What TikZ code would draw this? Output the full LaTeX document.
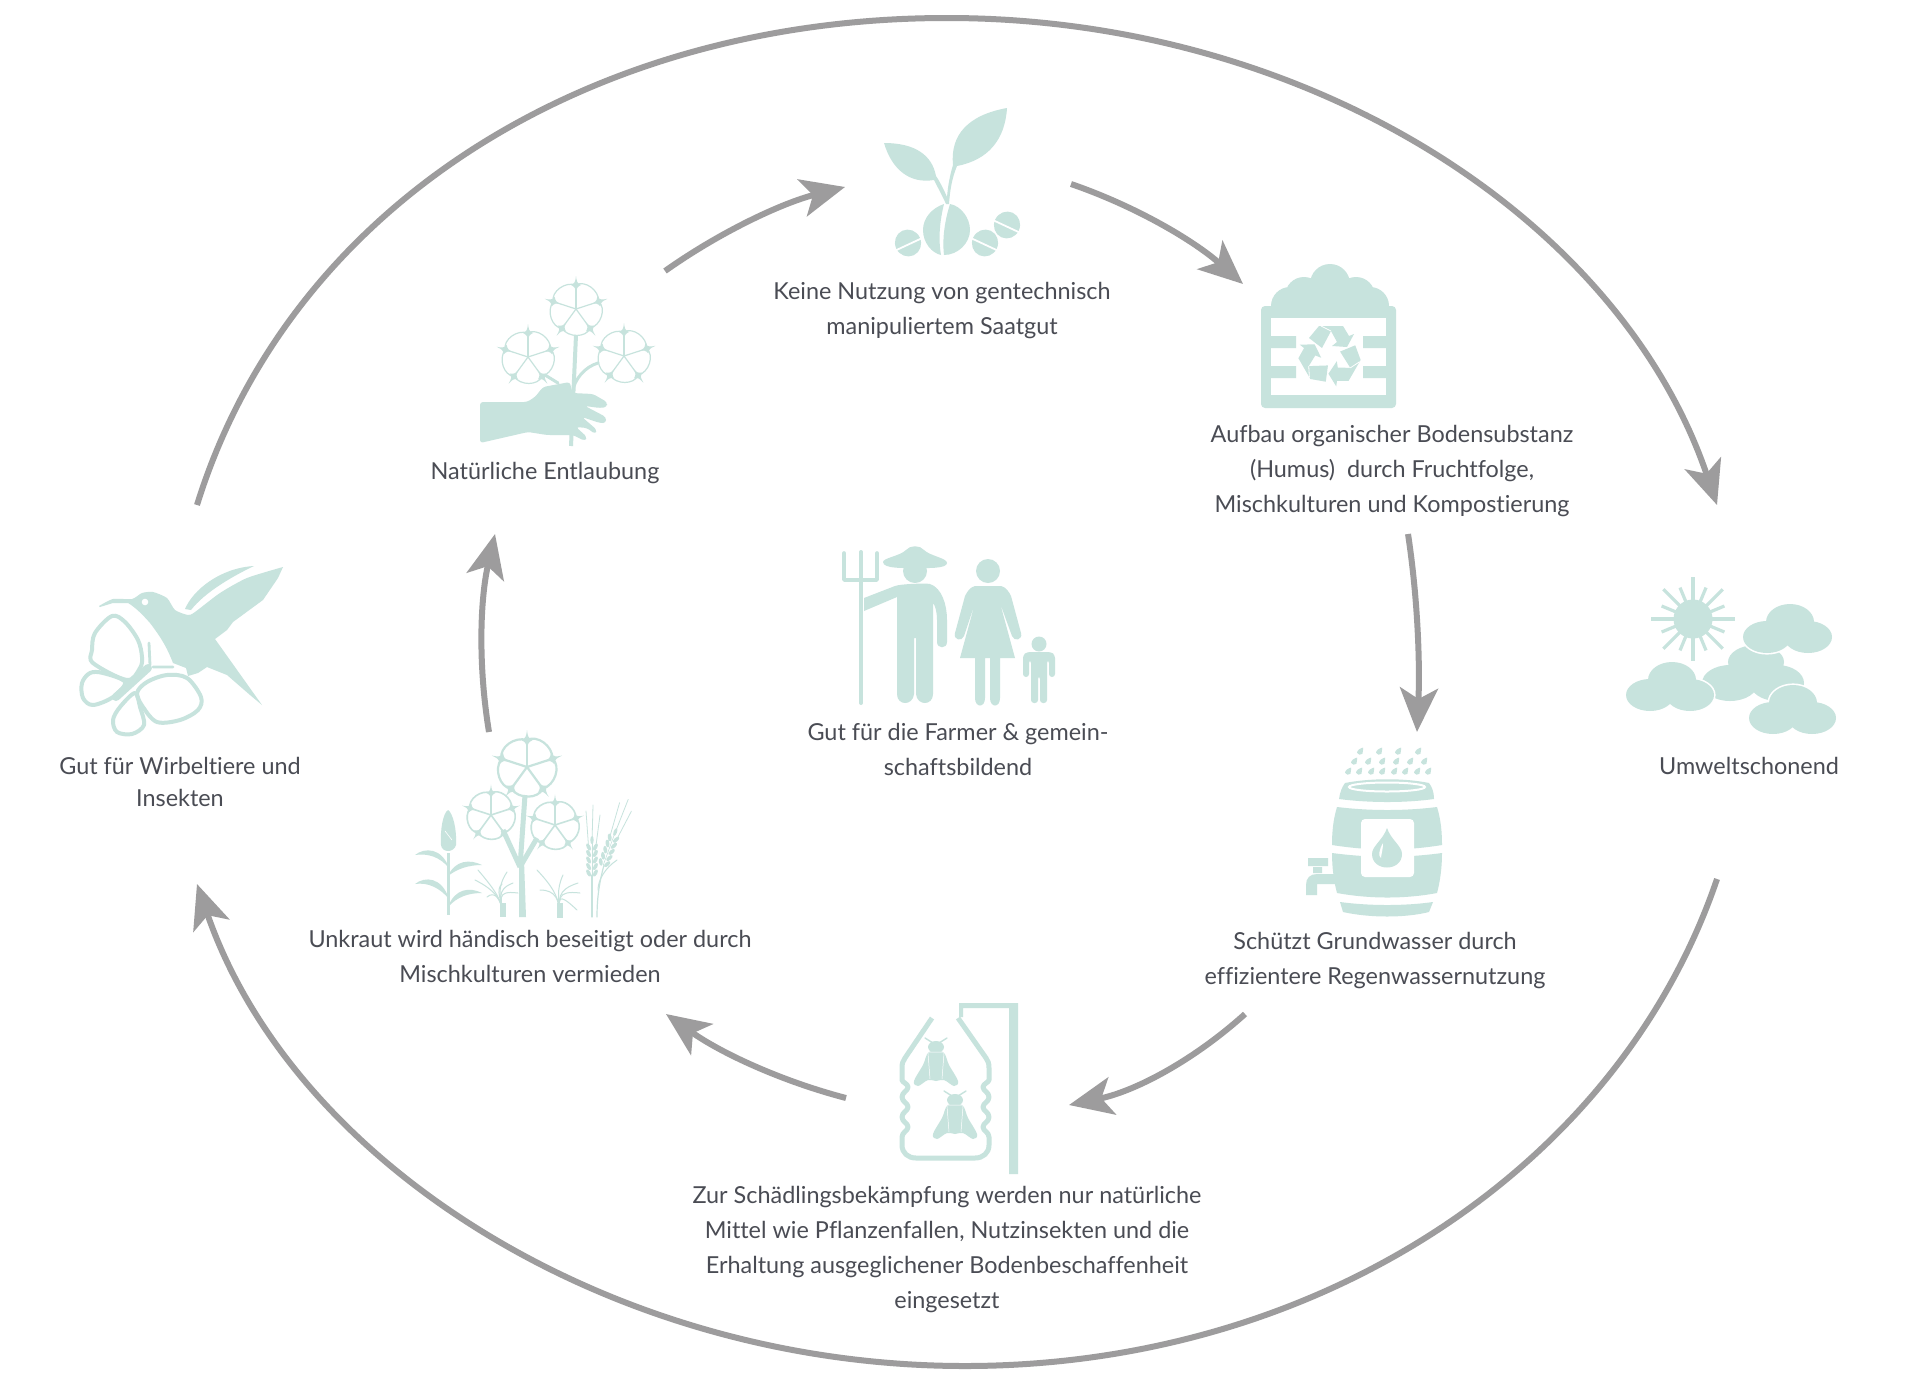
\documentclass[tikz,border=0pt]{standalone}
\usepackage{fontspec}
\setmainfont{Lato}[Ligatures=CommonOff]
\usetikzlibrary{arrows.meta}
\definecolor{icon}{HTML}{C7E3DD}
\definecolor{arrowgray}{HTML}{9D9C9D}
\definecolor{label}{HTML}{4A4C54}
\tikzset{
  iconfill/.style={fill=icon,draw=none},
  iconline/.style={draw=icon,line cap=round,line join=round},
  flow/.style={draw=arrowgray,line width=3pt,-{Stealth[length=22pt,width=19pt,inset=5.5pt,fill=arrowgray]}},
  caption/.style={text=label,align=center,font=\fontsize{11.7pt}{17.5pt}\selectfont,inner sep=0pt}
}
\newcommand{\flowerpic}[4]{\begin{scope}[shift={(#1,#2)},scale=#3]
  \foreach \k in {0,72,144,216,288}{\begin{scope}[rotate=\k]
    \draw[iconline,line width=#4] (0,0)--(0,-24);
    \draw[iconline,line width=#4] (0,-24) .. controls (9,-29) and (23,-19) .. (22.8,-7.4);
    \fill[iconfill] (0,-33) .. controls (.8,-27) and (1,-26) .. (5,-24) .. controls (1,-22) and (.8,-21) .. (0,-16) .. controls (-.8,-21) and (-1,-22) .. (-5,-24) .. controls (-1,-26) and (-.8,-27) .. (0,-33) -- cycle;
  \end{scope}}
\end{scope}}
\newcommand{\cloudpic}[6]{% top x,y ; left x,y ; right x,y
  \draw[white,fill=white,line width=1.6pt] (#1,#2) ellipse (24 and 18) (#3,#4) ellipse (24 and 16) (#5,#6) ellipse (24 and 16);
  \fill[iconfill] (#1,#2) ellipse (24 and 18) (#3,#4) ellipse (24 and 16) (#5,#6) ellipse (24 and 16);
}
\newcommand{\flypic}[2]{\begin{scope}[shift={(#1,#2)}]
  \fill[iconfill] (0,0) ellipse (8 and 6);
  \draw[iconline,line width=.7pt] (-11,-9)--(-3,-4) (11,-9)--(3,-4);
  \fill[iconfill] plot[smooth cycle,tension=.6] coordinates {(-7,5) (7,5) (13,18) (22,34) (18,39) (8,33) (0,34) (-8,33) (-18,39) (-22,34) (-13,18)};
  \draw[white,line width=.25pt] (-8,6)--(-6,32) (8,6)--(6,32) (-7,5)--(7,5);
\end{scope}}
\newcommand{\raindrop}[2]{\fill[iconfill,shift={(#1,#2)}] (3.2,-4.5) .. controls (2.5,-2) and (3.4,0) .. (2.4,1.8) .. controls (1,3.4) and (-2.5,3) .. (-2.9,.8) .. controls (-3.2,-1.6) and (0,-3.6) .. (3.2,-4.5) -- cycle;}
\newcommand{\wheatear}[3]{\begin{scope}[shift={(#1,#2)},rotate=#3]
  \foreach \v in {0,6.5,13,19.5,26}{
    \fill[iconfill,shift={(-3.4,-\v)},rotate=28] (0,0) ellipse (1.9 and 3.9);
    \fill[iconfill,shift={(3.4,-\v)},rotate=-28] (0,0) ellipse (1.9 and 3.9);}
  \fill[iconfill] (0,-33) ellipse (1.7 and 4);
  \draw[iconline,line width=.3pt] (0,2)--(0,-30);
  \draw[iconline,line width=.4pt] (-3,-20)--(-6,-62) (3,-20)--(8,-58) (0,-30)--(1,-68);
\end{scope}}
\begin{document}
\begin{tikzpicture}[x=.5pt,y=-.5pt]
\useasboundingbox (0,0) rectangle (1920,1381);
\fill[white] (0,0) rectangle (1920,1381);

% ---------- outer ring
\coordinate (ringL) at (197,505);
\coordinate (ringT) at (947,18);
\coordinate (ringR) at (1717,505);
\coordinate (ringRb) at (1717,879);
\coordinate (ringB) at (965,1366);
\coordinate (ringLb) at (197,884);
\draw[flow] (ringL) .. controls (290,205) and (590,18) .. (ringT) .. controls (1305,18) and (1619.3,216.5) .. (ringR);
\draw[flow] (ringRb) .. controls (1619,1167.5) and (1318,1366) .. (ringB) .. controls (612,1366) and (294,1165) .. (ringLb);

% ---------- inner ring
\coordinate (a1) at (665,271); \coordinate (a2) at (845,187);
\coordinate (b1) at (1071,184); \coordinate (b2) at (1243,284);
\coordinate (c1) at (1408,534); \coordinate (c2) at (1417,732);
\coordinate (d1) at (1245,1014); \coordinate (d2) at (1069,1105);
\coordinate (e1) at (846,1098); \coordinate (e2) at (666,1014);
\coordinate (f1) at (489,732); \coordinate (f2) at (495,534);
\draw[flow] (a1) .. controls (720,232) and (782,203) .. (a2);
\draw[flow] (b1) .. controls (1135,206) and (1193,240) .. (b2);
\draw[flow] (c1) .. controls (1418,600) and (1420,665) .. (c2);
\draw[flow] (d1) .. controls (1194,1060) and (1136,1091) .. (d2);
\draw[flow] (e1) .. controls (781,1081) and (721,1053) .. (e2);
\draw[flow] (f1) .. controls (478,665) and (480,600) .. (f2);

% ---------- seedling
\fill[iconfill] (953,165) .. controls (950,135) and (968,115) .. (1007,108) .. controls (1005,140) and (988,160) .. (957,166) .. controls (952,178) and (950,190) .. (949,204) -- (946,204) .. controls (942,195) and (938,188) .. (934,180) .. controls (910,184) and (892,170) .. (884,143) .. controls (915,143) and (932,155) .. (936,176) .. controls (940,182) and (944,190) .. (947,197) .. controls (948,185) and (950,175) .. (953,165) -- cycle;
\fill[iconfill] (944,204) .. controls (932,208) and (923,218) .. (923,230) .. controls (923,243) and (932,253) .. (941,255) .. controls (938,238) and (940,220) .. (944,204) -- cycle;
\fill[iconfill] (950,204) .. controls (961,206) and (970,218) .. (970,230) .. controls (970,243) and (958,255) .. (944,255) .. controls (942,238) and (945,220) .. (950,204) -- cycle;
\foreach \sx/\sy/\rot in {908/243/25,985/243/-25,1007/225/-25}{
  \begin{scope}[shift={(\sx,\sy)},rotate=\rot]
    \fill[iconfill] (0,0) ellipse (13 and 13.5);
    \draw[white,line width=.9pt] (-15,1.5)--(15,1.5);
  \end{scope}}

% ---------- compost
\fill[iconfill] (1330,284) circle (20) (1304,296) circle (19) (1356,296) circle (19) (1290,306) circle (19) (1370,306) circle (19);
\fill[iconfill] (1290,295) rectangle (1370,320);
\fill[iconfill,rounded corners=2pt] (1261,306) rectangle (1396,408);
\fill[white] (1271,318) rectangle (1386,395);
\fill[iconfill] (1271,336) rectangle (1296,348) (1271,366) rectangle (1296,378) (1363,336) rectangle (1386,348) (1363,366) rectangle (1386,378);
\foreach \r in {0,120,240}{\begin{scope}[shift={(1330,355)},rotate=\r]
  \fill[iconfill] (-21,-17)--(-11,-29)--(13,-29)--(19,-19)--(24,-21)--(17,-8)--(2,-9)--(7,-13)--(1,-24)--(-8,-7)--cycle;
  \draw[white,line width=.4pt] (-9,-29)--(1,-24);
\end{scope}}

% ---------- hand with cotton
\draw[iconline,line width=2pt,line cap=butt] (576,335)--(571,446);
\draw[iconline,line width=1.5pt] (545,375)--(558,383);
\draw[iconline,line width=1.5pt] (598,363) .. controls (585,367) and (575,378) .. (572,393);
\flowerpic{576}{309}{1}{.6pt}
\flowerpic{528}{357}{1}{.6pt}
\flowerpic{624}{356}{1}{.6pt}
\fill[iconfill,rounded corners=1.5pt] (480,402)--(527,402)--(535,397)--(543,387)--(570,382)--(572,393)--(593,394)--(607,402)--(607,407)--(600,408)--(585,406)--(606,417)--(606,423)--(600,423)--(582,417)--(597,430)--(595,434)--(587,428)--(576,427)--(587,437)--(585,441)--(573,435)--(547,435)--(528,432)--(480,443)--cycle;

% ---------- farmer family
\draw[iconline,line width=2pt] (861,552)--(861,703);
\draw[iconline,line width=1.8pt] (844,553)--(844,580)--(877,580)--(877,553);
\fill[iconfill] (883,562) .. controls (883,558) and (900,556) .. (906,550) .. controls (910,545) and (920,545) .. (924,550) .. controls (930,556) and (947,558) .. (947,563) .. controls (947,569) and (925,568) .. (915,568) .. controls (905,568) and (883,569) .. (883,562) -- cycle;
\fill[iconfill] (915,571) circle (12);
\fill[iconfill] (864,598)--(895,586) .. controls (900,584) and (925,583) .. (930,584) .. controls (942,588) and (947,605) .. (947,620) -- (947,642) .. controls (947,649) and (937,649) .. (937,642) -- (937,620) .. controls (937,612) and (935,605) .. (933,603) -- (933,694) .. controls (933,706) and (917,706) .. (916,694) -- (916,638) -- (914,638) -- (914,694) .. controls (913,706) and (897,706) .. (897,694) -- (897,597) -- (864,611) -- cycle;
\fill[iconfill] (988,571) circle (12);
\fill[iconfill] (975,586) -- (1001,586) .. controls (1006,587) and (1009,592) .. (1011,596) -- (1021,633) .. controls (1023,640) and (1014,642) .. (1012,636) -- (1000,603) -- (1015,658) -- (1000,658) -- (1000,698) .. controls (1000,708) and (990,708) .. (990,698) -- (990,658) -- (985,658) -- (985,698) .. controls (985,708) and (975,708) .. (975,698) -- (975,658) -- (960,658) -- (975,603) -- (964,636) .. controls (962,642) and (953,640) .. (955,633) -- (965,596) .. controls (967,592) and (970,587) .. (975,586) -- cycle;
\fill[iconfill] (1039,644) circle (7.5);
\fill[iconfill,rounded corners=1.5pt] (1023,655)--(1027,652)--(1051,652)--(1055,655)--(1055,677)--(1049,677)--(1049,660)--(1047,660)--(1047,703)--(1040,703)--(1040,676)--(1038,676)--(1038,703)--(1031,703)--(1031,660)--(1029,660)--(1029,677)--(1023,677)--cycle;

% ---------- hummingbird and butterfly
\fill[iconfill] plot[smooth,tension=.4] coordinates {(99,606) (113,599) (132,599) (142,593) (153,592) (167,598) (175,610) (188,615) (195,612) (220,593) (247,578) (283,567)} -- (278,578) -- (263,600) -- (233,622) -- (227,630) -- (215,639) -- (262,705) -- (250,695) -- (227,675) -- (207,667) -- (198,673) -- (188,676) -- (186,668) -- (173,663) .. controls (168,650) and (163,640) .. (150,623) .. controls (143,615) and (135,607) .. (128,603) -- (113,603) -- (100,607) -- cycle;
\fill[white] (145,602) circle (3.3);
\fill[iconfill] (185,609) .. controls (193,590) and (220,568) .. (254,566) .. controls (233,576) and (205,592) .. (191,610) -- cycle;
\draw[iconline,line width=2pt] plot[smooth cycle,tension=.55] coordinates {(127,680) (93,663) (92,650) (95,633) (112,616) (125,622) (138,640) (142,657) (140,668)};
\draw[iconline,line width=2pt] plot[smooth cycle,tension=.55] coordinates {(125,682) (103,673) (90,673) (82,683) (83,698) (93,705) (113,697)};
\draw[iconline,line width=2pt] plot[smooth cycle,tension=.55] coordinates {(135,693) (120,707) (113,720) (117,732) (132,734) (144,725) (140,707)};
\draw[iconline,line width=2pt] plot[smooth cycle,tension=.55] coordinates {(147,682) (167,675) (187,678) (201,697) (198,710) (180,720) (157,722) (143,707) (137,693)};
\draw[iconline,line width=4pt] (116,697)--(148,668);
\draw[iconline,line width=1.4pt] (150,665)--(149,643) (153,667)--(173,667);

% ---------- sun and clouds
\fill[iconfill] (1693,619) circle (19.5);
\foreach \a in {0,45,90,135,180,225,270,315}{\draw[iconline,line width=1.6pt,line cap=butt,shift={(1693,619)},rotate=\a] (17,0)--(42,0);}
\foreach \a in {22.5,67.5,112.5,157.5,202.5,247.5,292.5,337.5}{\draw[iconline,line width=1.6pt,line cap=butt,shift={(1693,619)},rotate=\a] (17,0)--(34,0);}
\fill[iconfill] (1756,662) ellipse (28 and 17) (1730,683) ellipse (28 and 18) (1777,683) ellipse (27 and 18);
\cloudpic{1672}{680}{1650}{695}{1690}{695}
\cloudpic{1790}{622}{1767}{637}{1808}{637}
\cloudpic{1793}{703}{1773}{718}{1812}{718}

% ---------- barrel
\foreach \dx/\dy in {1360/752,1379/752,1398/752,1418/752,1354/762,1368/762,1382/762,1396/762,1410/762,1424/762,1348/772,1359/772,1371/772,1382/772,1394/772,1405/772,1417/772,1428/772}{\raindrop{\dx}{\dy}}
\fill[iconfill] (1339,799) .. controls (1340,792) and (1342,787) .. (1345,783) .. controls (1370,778) and (1405,778) .. (1429,783) .. controls (1432,787) and (1434,792) .. (1434,799) .. controls (1405,803) and (1370,803) .. (1339,799) -- cycle;
\draw[white,line width=1pt] (1387,787) ellipse (38 and 4.5);
\fill[iconfill] (1337,807) .. controls (1370,811) and (1405,811) .. (1437,807) .. controls (1441,820) and (1442,833) .. (1442,845) .. controls (1405,851) and (1370,851) .. (1332,845) .. controls (1332,833) and (1333,820) .. (1337,807) -- cycle;
\fill[iconfill] (1332,853) .. controls (1370,858) and (1405,858) .. (1442,853) .. controls (1442,868) and (1440,882) .. (1437,893) .. controls (1405,899) and (1370,899) .. (1337,893) .. controls (1334,882) and (1332,868) .. (1332,853) -- cycle;
\fill[iconfill] (1340,902) .. controls (1370,906) and (1405,906) .. (1433,902) -- (1429,912) .. controls (1405,918) and (1370,918) .. (1343,912) -- cycle;
\fill[white,rounded corners=2pt] (1361,819) rectangle (1414,877);
\fill[iconfill] (1387,828) .. controls (1391,840) and (1402,846) .. (1402,854) .. controls (1402,872) and (1372,872) .. (1372,854) .. controls (1372,846) and (1383,840) .. (1387,828) -- cycle;
\fill[white] (1383,843) .. controls (1383,850) and (1381,855) .. (1381,858) .. controls (1378,856) and (1379,850) .. (1383,843) -- cycle;
\fill[iconfill] (1308,858) rectangle (1328,866) (1313,867) rectangle (1322,873);
\fill[iconfill] (1336,874) -- (1317,874) .. controls (1310,874) and (1306,878) .. (1306,885) -- (1306,895) -- (1317,895) -- (1317,884) -- (1336,884) -- cycle;

% ---------- bottle trap
\fill[iconfill] (959,1003) rectangle (1018,1008) (1009,1003) rectangle (1018,1174) (959,1003) rectangle (963,1017);
\draw[iconline,line width=2.5pt,line cap=butt] (932,1018)--(905,1058) .. controls (903,1061) and (902,1063) .. (902,1068)--(902,1080) .. controls (902,1082) and (908,1084) .. (908,1087) .. controls (908,1091) and (902,1092) .. (902,1097) .. controls (902,1102) and (908,1103) .. (908,1107) .. controls (908,1111) and (902,1112) .. (902,1117) .. controls (902,1122) and (908,1123) .. (908,1127) .. controls (908,1131) and (902,1132) .. (902,1137) -- (902,1145) .. controls (902,1153) and (908,1158) .. (916,1158) -- (975,1158) .. controls (983,1158) and (989,1153) .. (989,1145) -- (989,1137) .. controls (989,1132) and (983,1131) .. (983,1127) .. controls (983,1123) and (989,1122) .. (989,1117) .. controls (989,1112) and (983,1111) .. (983,1107) .. controls (983,1103) and (989,1102) .. (989,1097) .. controls (989,1092) and (983,1091) .. (983,1087) .. controls (983,1084) and (989,1082) .. (989,1080) -- (989,1068) .. controls (989,1063) and (988,1061) .. (986,1058) -- (958,1018);
\flypic{936}{1047}
\flypic{955}{1100}

% ---------- weeds, cotton and crops
\draw[iconline,line width=2.5pt,line cap=butt] (525,795)--(520,867);
\fill[iconfill] (519,860) -- (524,860) -- (526,917) -- (519,917) -- cycle;
\draw[iconline,line width=2.5pt,line cap=butt] (503,830)--(520,867) (537,838)--(520,867);
\flowerpic{527}{767}{1.12}{1.1pt}
\flowerpic{491}{815}{.92}{.8pt}
\flowerpic{555}{825}{.92}{.8pt}
\draw[iconline,line width=1.5pt,line cap=butt] (448,853)--(448,915);
\fill[iconfill] (448,810) .. controls (453,813) and (457,830) .. (456,845) .. controls (454,853) and (442,853) .. (441,845) .. controls (440,830) and (443,813) .. (448,810) -- cycle;
\draw[white,line width=.3pt] (445,831)--(452,840);
\fill[iconfill] (415,855) .. controls (425,847) and (442,848) .. (449,868) .. controls (440,857) and (428,853) .. (415,855) -- cycle;
\fill[iconfill] (482,865) .. controls (470,859) and (455,860) .. (448,876) .. controls (457,869) and (468,865) .. (482,865) -- cycle;
\fill[iconfill] (415,884) .. controls (425,876) and (442,877) .. (449,899) .. controls (440,888) and (428,882) .. (415,884) -- cycle;
\fill[iconfill] (482,893) .. controls (470,887) and (455,888) .. (448,907) .. controls (457,897) and (468,893) .. (482,893) -- cycle;
\foreach \sx/\sy in {478/870,475/880,487/897,507/872,502/884,513/883,518/893}{\draw[iconline,line width=.5pt] (503,915) .. controls (502,900) and (495,890) .. (\sx,\sy);}
\fill[iconfill] (500,903) -- (506,903) -- (506,917) -- (500,917) -- cycle;
\foreach \sx/\sy in {537/870,540/890,563/875,578/883,580/893,577/910}{\draw[iconline,line width=.5pt] (560,915) .. controls (559,900) and (556,890) .. (\sx,\sy);}
\fill[iconfill] (557,903) -- (563,903) -- (563,918) -- (557,918) -- cycle;
\draw[iconline,line width=.6pt] (592,917)--(592,875);
\draw[iconline,line width=.6pt] (597,917) .. controls (597,895) and (600,880) .. (604,865);
\draw[iconline,line width=.5pt] (617,860) .. controls (605,868) and (598,880) .. (598,890);
\wheatear{592}{873}{0}
\wheatear{604}{863}{-20}

% ---------- labels
\node[caption] (seedtxt) at (942,310.5) {Keine Nutzung von gentechnisch\\manipuliertem Saatgut};
\node[caption] (humustxt) at (1392,471) {Aufbau organischer Bodensubstanz\\(Humus)~ durch Fruchtfolge,\\Mischkulturen und Kompostierung};
\node[caption] (defoltxt) at (545,473) {Natürliche Entlaubung};
\node[caption] (farmtxt) at (958,749) {Gut für die Farmer \& gemein-\\schaftsbildend};
\node[caption] (animaltxt) at (180,782) {Gut für Wirbeltiere und\\[-1.5pt]Insekten};
\node[caption] (envtxt) at (1749,766) {Umweltschonend};
\node[caption] (watertxt) at (1375,961) {Schützt Grundwasser durch\\effizientere Regenwassernutzung};
\node[caption] (weedtxt) at (530,956.5) {Unkraut wird händisch beseitigt oder durch\\Mischkulturen vermieden};
\node[caption] (pesttxt) at (947,1249) {Zur Schädlingsbekämpfung werden nur natürliche\\Mittel wie Pflanzenfallen, Nutzinsekten und die\\Erhaltung ausgeglichener Bodenbeschaffenheit\\eingesetzt};
\end{tikzpicture}
\end{document}
